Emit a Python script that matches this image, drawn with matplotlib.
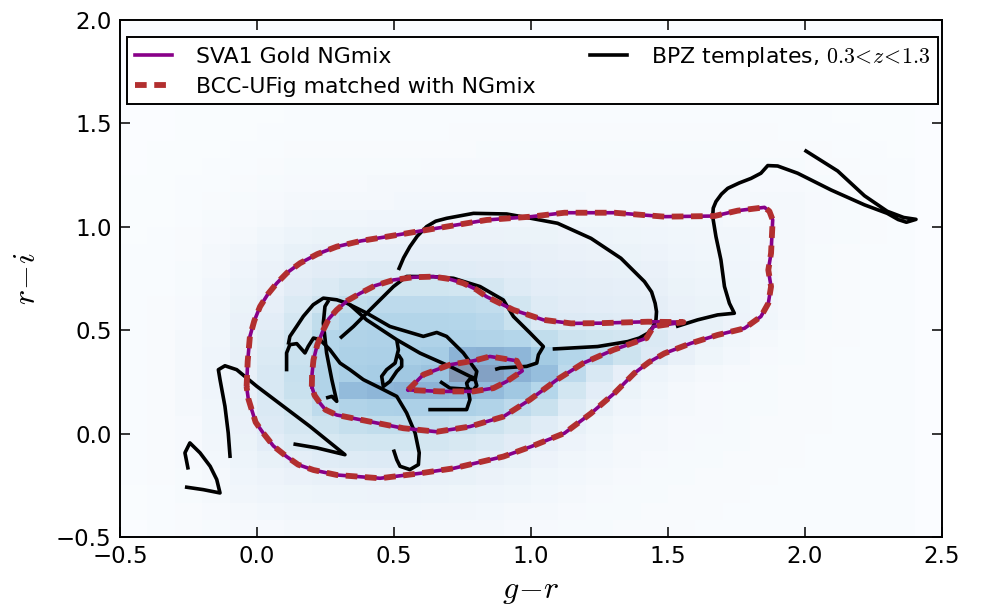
import numpy as np
import matplotlib
matplotlib.use("Agg")
import matplotlib.pyplot as plt
from matplotlib.lines import Line2D

plt.rcParams['font.family'] = ['DejaVu Sans']
plt.rcParams['mathtext.fontset'] = 'cm'

# 2d histogram of the SVA1 Gold sample, bins in g-r and r-i
gr_edges = np.linspace(-0.5, 2.5, 31)
ri_edges = np.linspace(-0.5, 2.0, 31)
# cell values in percent of the peak cell, rows from r-i=-0.5 upward, 30 g-r columns per row
density_rows = [
    [0, 2, 3, 4, 5, 5, 6, 6, 6, 6, 6, 6, 6, 6, 5, 5, 4, 4, 3, 3, 3, 2, 2, 2, 2, 2, 2, 2, 2, 0],
    [1, 2, 3, 5, 7, 8, 9, 9, 10, 10, 10, 9, 9, 8, 7, 6, 5, 4, 4, 3, 3, 3, 2, 2, 2, 2, 2, 2, 2, 0],
    [1, 2, 4, 6, 9, 11, 12, 13, 13, 14, 14, 13, 12, 11, 10, 8, 6, 5, 4, 4, 3, 3, 3, 2, 2, 2, 2, 2, 2, 0],
    [2, 3, 4, 7, 11, 14, 17, 19, 20, 20, 20, 19, 18, 16, 13, 10, 8, 6, 5, 4, 4, 3, 3, 3, 2, 2, 2, 2, 2, 0],
    [2, 3, 5, 8, 13, 18, 23, 26, 27, 28, 28, 27, 25, 22, 18, 14, 10, 8, 6, 5, 4, 4, 3, 3, 3, 2, 2, 2, 2, 0],
    [2, 3, 5, 9, 15, 24, 29, 32, 34, 35, 35, 34, 32, 29, 25, 20, 14, 10, 7, 6, 5, 4, 4, 3, 3, 2, 2, 2, 2, 0],
    [2, 3, 5, 10, 17, 28, 33, 38, 42, 44, 44, 43, 41, 38, 32, 26, 18, 12, 8, 6, 5, 5, 4, 3, 3, 3, 2, 2, 2, 0],
    [2, 3, 6, 10, 18, 30, 36, 45, 52, 54, 55, 55, 54, 52, 46, 40, 27, 18, 11, 8, 6, 5, 4, 4, 3, 3, 2, 2, 2, 0],
    [2, 3, 6, 11, 19, 31, 40, 52, 72, 76, 78, 78, 76, 72, 62, 50, 35, 24, 15, 10, 7, 5, 4, 4, 3, 3, 2, 2, 2, 0],
    [2, 3, 6, 11, 19, 31, 41, 52, 56, 58, 62, 66, 100, 92, 80, 70, 46, 31, 20, 13, 9, 6, 5, 4, 3, 3, 2, 2, 2, 0],
    [2, 3, 6, 11, 19, 29, 39, 50, 54, 55, 56, 58, 78, 80, 76, 60, 50, 46, 38, 28, 19, 12, 8, 5, 4, 3, 2, 2, 2, 0],
    [2, 3, 6, 10, 18, 27, 37, 50, 52, 53, 53, 53, 53, 52, 50, 44, 38, 36, 34, 30, 24, 15, 10, 6, 4, 3, 3, 2, 2, 0],
    [2, 3, 5, 10, 17, 24, 33, 44, 50, 51, 51, 51, 50, 48, 40, 30, 28, 27, 26, 24, 20, 18, 14, 10, 6, 4, 3, 2, 2, 0],
    [2, 3, 5, 9, 15, 20, 29, 37, 44, 46, 46, 46, 45, 43, 35, 27, 25, 24, 23, 22, 17, 15, 13, 9, 6, 4, 3, 2, 2, 0],
    [2, 2, 4, 8, 13, 17, 25, 29, 34, 36, 36, 36, 35, 33, 27, 24, 23, 22, 21, 19, 15, 13, 12, 9, 6, 4, 3, 2, 2, 0],
    [2, 2, 4, 7, 11, 16, 22, 25, 26, 27, 27, 27, 26, 25, 24, 21, 20, 19, 18, 17, 13, 12, 11, 9, 6, 4, 3, 2, 2, 0],
    [2, 2, 3, 6, 9, 13, 18, 20, 21, 21, 21, 21, 21, 21, 20, 19, 17, 16, 15, 14, 11, 10, 10, 8, 6, 4, 3, 2, 2, 0],
    [1, 2, 3, 5, 7, 10, 13, 15, 15, 16, 16, 16, 16, 16, 15, 15, 14, 13, 12, 11, 10, 9, 9, 8, 6, 5, 4, 3, 2, 0],
    [1, 1, 2, 4, 5, 7, 9, 10, 10, 11, 11, 11, 11, 11, 11, 11, 10, 10, 10, 9, 8, 8, 7, 7, 6, 5, 4, 3, 2, 0],
    [1, 1, 2, 3, 4, 5, 6, 7, 7, 7, 8, 8, 8, 8, 8, 8, 8, 7, 7, 7, 7, 7, 6, 6, 6, 5, 4, 3, 2, 0],
    [1, 1, 2, 2, 3, 4, 5, 5, 5, 6, 6, 6, 6, 6, 6, 6, 6, 6, 6, 6, 6, 6, 6, 5, 5, 4, 3, 3, 2, 0],
    [0, 1, 1, 2, 2, 3, 4, 4, 4, 4, 4, 5, 5, 5, 5, 5, 5, 5, 5, 5, 5, 5, 5, 4, 4, 3, 3, 2, 2, 0],
    [0, 1, 1, 1, 2, 2, 3, 3, 3, 3, 3, 3, 3, 4, 4, 4, 4, 4, 4, 4, 4, 4, 4, 3, 3, 3, 2, 2, 1, 0],
    [0, 0, 1, 1, 1, 2, 2, 2, 2, 2, 2, 2, 3, 3, 3, 3, 3, 3, 3, 3, 3, 3, 3, 3, 2, 2, 2, 1, 1, 0],
    [0, 0, 1, 1, 1, 1, 2, 2, 2, 2, 2, 2, 2, 2, 2, 2, 2, 2, 2, 2, 2, 2, 2, 2, 2, 2, 1, 1, 1, 0],
    [0, 0, 0, 1, 1, 1, 1, 1, 1, 1, 1, 1, 1, 1, 1, 1, 1, 1, 1, 1, 1, 1, 1, 1, 1, 1, 1, 0, 0, 0],
    [0] * 30,
    [0] * 30,
    [0] * 30,
    [0] * 30,
]

# density contours (NGmix and the matched BCC-UFig sample lie on top of each other)
outer_x = [-0.038, -0.034, -0.026, -0.010, 0.011, 0.040, 0.072, 0.110, 0.157, 0.220, 0.291, 0.380,
           0.473, 0.656, 0.838, 1.0, 1.122, 1.304, 1.487, 1.669, 1.754, 1.852, 1.870, 1.882, 1.876,
           1.866, 1.876, 1.866, 1.839, 1.779, 1.681, 1.584, 1.487, 1.430, 1.377, 1.304, 1.219,
           1.122, 1.0, 0.899, 0.717, 0.595, 0.449, 0.291, 0.206, 0.150, 0.108, 0.060, 0.023,
           -0.005, -0.019, -0.032, -0.038]
outer_y = [0.227, 0.350, 0.469, 0.545, 0.614, 0.675, 0.727, 0.778, 0.824, 0.868, 0.904, 0.932,
           0.952, 0.993, 1.033, 1.049, 1.068, 1.068, 1.049, 1.052, 1.078, 1.094, 1.075, 1.033, 0.872,
           0.791, 0.711, 0.630, 0.566, 0.509, 0.477, 0.437, 0.388, 0.345, 0.292, 0.195, 0.098,
           0.002, -0.063, -0.111, -0.168, -0.192, -0.216, -0.200, -0.176, -0.150, -0.111, -0.060, 0.002,
           0.055, 0.114, 0.170, 0.227]
middle_x = [0.200, 0.201, 0.206, 0.220, 0.242, 0.262, 0.291, 0.330, 0.376, 0.430, 0.498, 0.570,
            0.644, 0.700, 0.753, 0.800, 0.838, 0.936, 1.0, 1.045, 1.146, 1.252, 1.426, 1.556, 1.447,
            1.422, 1.301, 1.191, 1.094, 0.996, 0.899, 0.777, 0.656, 0.534, 0.412, 0.291, 0.250,
            0.230, 0.210, 0.200]
middle_y = [0.227, 0.290, 0.356, 0.430, 0.501, 0.555, 0.598, 0.643, 0.678, 0.715, 0.743, 0.756,
            0.759, 0.748, 0.727, 0.697, 0.662, 0.598, 0.570, 0.550, 0.533, 0.534, 0.541, 0.539, 0.518,
            0.462, 0.405, 0.341, 0.260, 0.164, 0.082, 0.034, 0.009, 0.026, 0.058, 0.090, 0.115,
            0.147, 0.185, 0.227]
inner_x = [0.552, 0.607, 0.704, 0.790, 0.850, 0.948, 0.968, 0.911, 0.863, 0.790, 0.668, 0.571, 0.552]
inner_y = [0.212, 0.285, 0.333, 0.352, 0.373, 0.352, 0.303, 0.252, 0.220, 0.204, 0.204, 0.210, 0.212]

# BPZ template tracks, 0.3 < z < 1.3
bpz1_x = [-0.251, -0.263, -0.245, -0.208, -0.171, -0.147, -0.135, -0.196, -0.263]
bpz1_y = [-0.174, -0.093, -0.045, -0.093, -0.158, -0.222, -0.287, -0.271, -0.258]
bpz2_x = [-0.098, -0.105, -0.117, -0.135, -0.141, -0.117, -0.074, -0.001, 0.096, 0.193, 0.321, 0.218, 0.133]
bpz2_y = [-0.118, 0.003, 0.132, 0.261, 0.309, 0.328, 0.309, 0.229, 0.132, 0.035, -0.102, -0.069, -0.050]
bpz3_x = [0.108, 0.108, 0.120, 0.145, 0.175, 0.187, 0.206, 0.230, 0.266, 0.303, 0.339, 0.388, 0.449,
          0.486, 0.510, 0.546, 0.577, 0.592, 0.589, 0.558, 0.522, 0.510, 0.498]
bpz3_y = [0.301, 0.390, 0.430, 0.435, 0.390, 0.422, 0.462, 0.454, 0.406, 0.341, 0.309, 0.261, 0.221,
          0.196, 0.180, 0.100, 0.003, -0.093, -0.150, -0.174, -0.158, -0.126, -0.077]
bpz4_x = [0.252, 0.273, 0.291, 0.273, 0.254, 0.242, 0.248, 0.262]
bpz4_y = [0.172, 0.180, 0.156, 0.261, 0.390, 0.534, 0.615, 0.645]
bpz5_x = [0.114, 0.120, 0.145, 0.169, 0.205, 0.242, 0.291, 0.327, 0.400, 0.485, 0.607, 0.656,
          0.692, 0.753, 0.802, 0.796]
bpz5_y = [0.430, 0.470, 0.519, 0.567, 0.623, 0.655, 0.647, 0.631, 0.583, 0.518, 0.470, 0.489,
          0.470, 0.390, 0.301, 0.261]
bpz6_x = [0.339, 0.400, 0.510, 0.595, 0.704, 0.777, 0.800]
bpz6_y = [0.623, 0.550, 0.454, 0.389, 0.325, 0.277, 0.265]
bpz7_x = [0.303, 0.352, 0.425, 0.498, 0.546, 0.644, 0.717, 0.814, 0.899, 0.936, 0.997, 1.045,
          1.027, 1.021, 0.984, 0.887, 0.869]
bpz7_y = [0.461, 0.518, 0.615, 0.711, 0.760, 0.759, 0.751, 0.711, 0.646, 0.566, 0.486, 0.421,
          0.381, 0.341, 0.325, 0.317, 0.310]
bpz8_x = [0.625, 0.765, 0.777, 0.771, 0.765, 0.777, 0.796, 0.802, 0.790, 0.771]
bpz8_y = [0.116, 0.116, 0.164, 0.212, 0.244, 0.264, 0.261, 0.232, 0.212, 0.215]
bpz9_x = [0.668, 0.704, 0.765]
bpz9_y = [0.252, 0.220, 0.215]
bpz10_x = [0.510, 0.516, 0.504, 0.473, 0.455, 0.461, 0.485, 0.510, 0.528, 0.528, 0.516]
bpz10_y = [0.454, 0.405, 0.341, 0.309, 0.277, 0.228, 0.252, 0.301, 0.325, 0.357, 0.381]
bpz11_x = [0.516, 0.535, 0.558, 0.585, 0.619, 0.652, 0.692, 0.790, 0.911, 1.0, 1.097, 1.219, 1.328,
           1.414, 1.440, 1.453, 1.458, 1.456, 1.445, 1.426, 1.395, 1.353, 1.243, 1.079]
bpz11_y = [0.791, 0.850, 0.904, 0.955, 1.001, 1.027, 1.041, 1.065, 1.062, 1.041, 1.017, 0.944, 0.848,
           0.735, 0.685, 0.630, 0.590, 0.550, 0.515, 0.485, 0.462, 0.445, 0.421, 0.409]
bpz12_x = [1.529, 1.608, 1.681, 1.742, 1.724, 1.706, 1.693, 1.675, 1.663, 1.665, 1.675, 1.695, 1.718,
           1.760, 1.803, 1.839, 1.864, 1.900, 1.973, 2.095, 2.217, 2.300, 2.340, 2.370, 2.405, 2.360,
           2.300, 2.217, 2.119, 1.998]
bpz12_y = [0.517, 0.550, 0.574, 0.582, 0.630, 0.711, 0.840, 0.952, 1.049, 1.090, 1.122, 1.158, 1.186,
           1.212, 1.234, 1.259, 1.296, 1.294, 1.259, 1.178, 1.106, 1.065, 1.035, 1.022, 1.036, 1.045,
           1.075, 1.150, 1.270, 1.371]

contours_x = [outer_x, middle_x, inner_x]
contours_y = [outer_y, middle_y, inner_y]
tracks_x = [bpz1_x, bpz2_x, bpz3_x, bpz4_x, bpz5_x, bpz6_x, bpz7_x, bpz8_x, bpz9_x, bpz10_x, bpz11_x, bpz12_x]
tracks_y = [bpz1_y, bpz2_y, bpz3_y, bpz4_y, bpz5_y, bpz6_y, bpz7_y, bpz8_y, bpz9_y, bpz10_y, bpz11_y, bpz12_y]

purple = '#880088'
red = '#b22f2f'

fig = plt.figure(figsize=(9.82, 6.11), dpi=100)
ax = fig.add_axes([0.1222, 0.1211, 0.8371, 0.8462])

ax.pcolormesh(gr_edges, ri_edges, np.array(density_rows, dtype=float), cmap='Blues',
              vmin=0, vmax=100, alpha=0.5, edgecolors='none', antialiased=False, zorder=0)

for tx, ty in zip(tracks_x, tracks_y):
    ax.plot(tx, ty, color='black', lw=2.6, solid_joinstyle='round', solid_capstyle='butt', zorder=3)

for cx, cy in zip(contours_x, contours_y):
    ax.plot(cx, cy, color=purple, lw=2.6, solid_joinstyle='round', zorder=4)
    ax.plot(cx, cy, color=red, lw=4.2, dashes=(2.0, 1.3), zorder=5)

ax.set_xlim(-0.5, 2.5)
ax.set_ylim(-0.5, 2.0)
ax.set_xticks(np.arange(-0.5, 2.51, 0.5))
ax.set_yticks(np.arange(-0.5, 2.01, 0.5))
ax.tick_params(direction='in', length=7, width=1.1, labelsize=16.5, pad=6,
               top=True, right=True)
for sp in ax.spines.values():
    sp.set_linewidth(1.4)

ax.set_xlabel('$g\\!-\\!r$', fontsize=23, labelpad=5)
ax.set_ylabel('$r\\!-\\!i$', fontsize=23, labelpad=10)

handles = [Line2D([], [], color=purple, lw=2.6),
           Line2D([], [], color=red, lw=4.2, dashes=(2.0, 1.3)),
           Line2D([], [], color='black', lw=2.6)]
labels = ['SVA1 Gold NGmix', 'BCC-UFig matched with NGmix',
          'BPZ templates, $0.3\\!<\\!z\\!<\\!1.3$']
leg = ax.legend(handles, labels, loc='upper left', bbox_to_anchor=(0.0085, 0.0, 0.9865, 0.967),
                mode='expand', ncol=2, fontsize=15.8, borderaxespad=0, fancybox=False,
                framealpha=1, edgecolor='black', handlelength=1.7, handletextpad=1.1,
                borderpad=0.35, labelspacing=0.45)
leg.get_frame().set_linewidth(1.4)

fig.savefig('out.png', dpi=100)
